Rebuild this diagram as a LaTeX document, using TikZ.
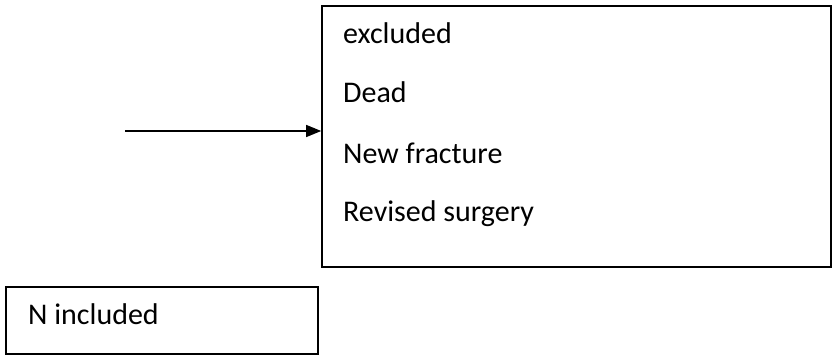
\documentclass[tikz,border=0pt]{standalone}
\usepackage{fontspec}
\setmainfont{Carlito}
\usetikzlibrary{arrows.meta}
\begin{document}
\begin{tikzpicture}[x=1pt,y=-1pt,
  box/.style={draw=black,line width=1.6pt,rectangle,inner sep=0pt},
  lbl/.style={anchor=base west,inner sep=0pt,font=\fontsize{30}{36}\selectfont},
  conn/.style={draw=black,line width=1.3pt,-{Triangle[length=15pt,width=12pt]}}]
\useasboundingbox (0,0) rectangle (833,355);
\node[box,minimum width=509pt,minimum height=261pt] (outbox) at (576.5,136.5) {};
\node[box,minimum width=312pt,minimum height=67pt] (inbox) at (162,320.5) {};
\node[lbl] (t1) at (343,44) {excluded};
\node[lbl] (t2) at (343,103) {Dead};
\node[lbl] (t3) at (343,164) {New fracture};
\node[lbl] (t4) at (343,222) {Revised surgery};
\node[lbl] (t5) at (28,325) {N included};
\coordinate (src) at (125,131);
\draw[conn] (src) -- (src -| outbox.west);
\end{tikzpicture}
\end{document}
